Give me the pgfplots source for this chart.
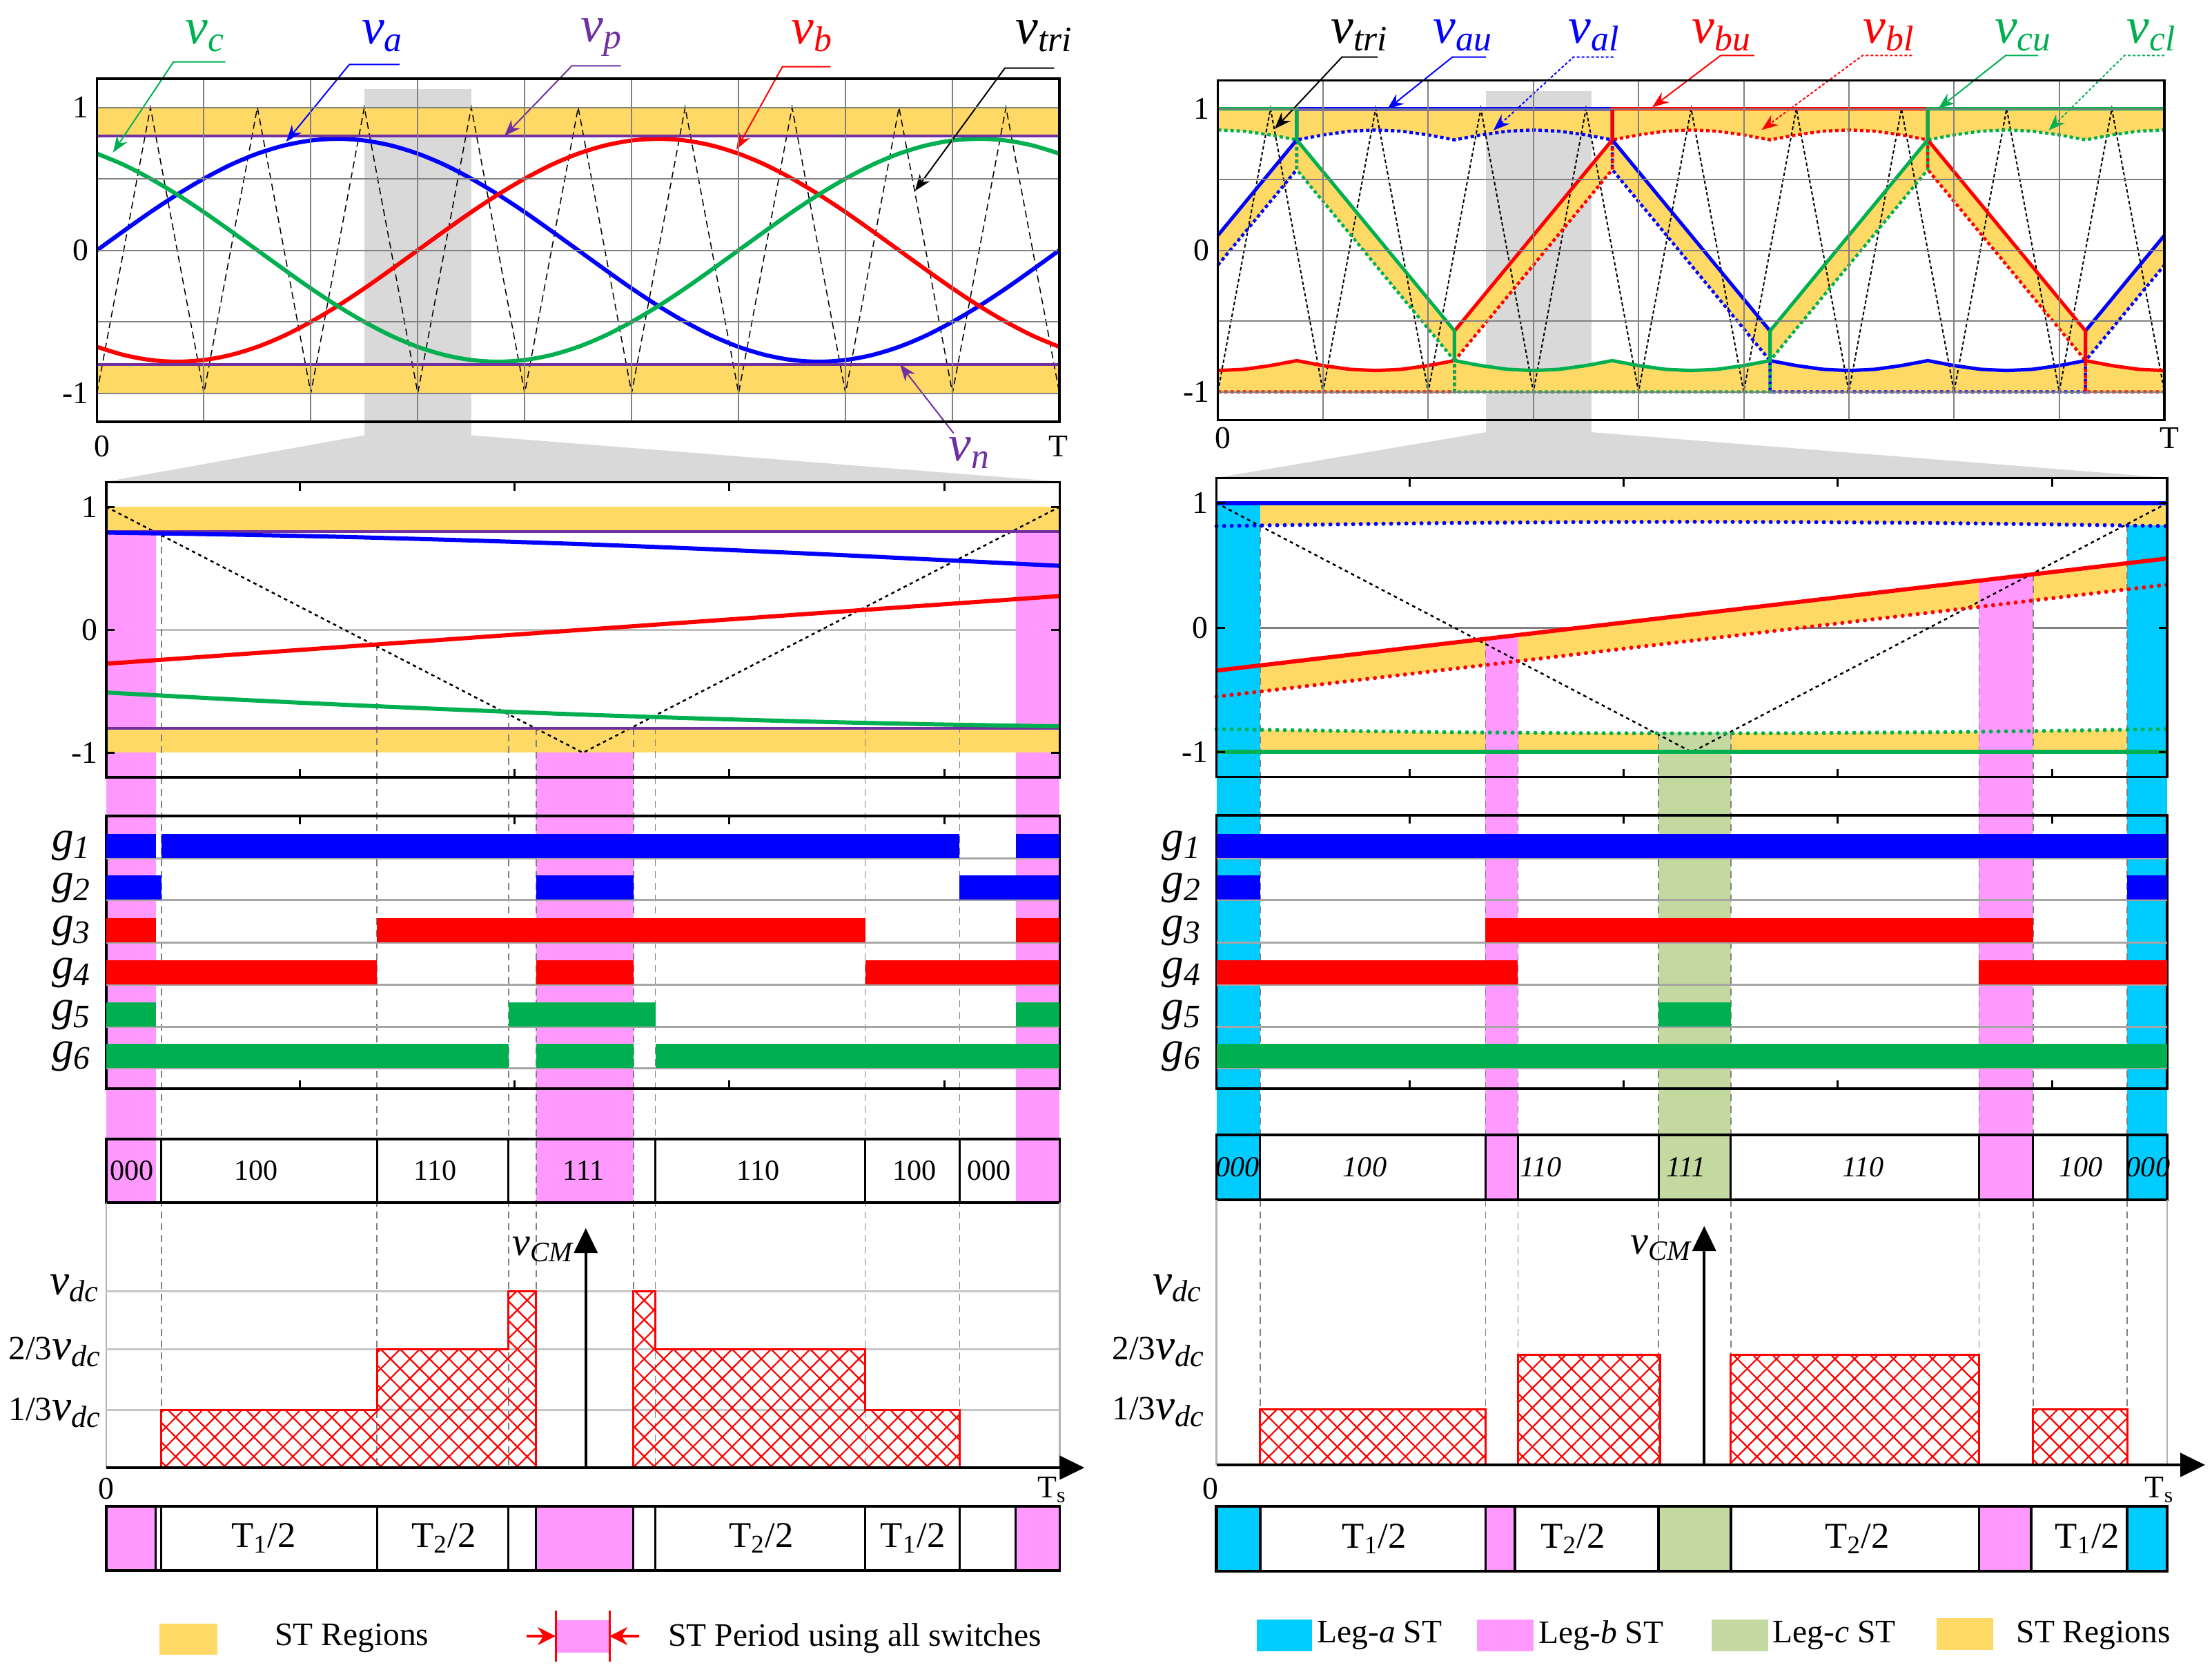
\documentclass[border=0pt]{standalone}
\usepackage{pgfplots}
\pgfplotsset{compat=1.18}
\usepackage{pgfplotstable}
\usepackage{fontspec}
\setmainfont{Liberation Serif}
\usetikzlibrary{arrows.meta,patterns.meta}

\definecolor{stY}{HTML}{FFD966}
\definecolor{stP}{HTML}{FF99FF}
\definecolor{stC}{HTML}{00CCFF}
\definecolor{stG}{HTML}{C3D9A0}
\definecolor{colG}{HTML}{D9D9D9}
\definecolor{pu}{HTML}{7030A0}
\definecolor{gr}{HTML}{00B050}
\definecolor{bl}{HTML}{0000FF}
\definecolor{rd}{HTML}{FF0000}

\newcommand\fnum{\fontsize{13}{15}\selectfont}
\newcommand\flab{\fontsize{21}{24}\selectfont\itshape}
\newcommand\fg{\fontsize{18}{20}\selectfont\itshape}
\newcommand\fst{\fontsize{12}{14}\selectfont}
\newcommand\fT{\fontsize{15}{17}\selectfont}
\newcommand\fv{\fontsize{18}{20}\selectfont\itshape}
\newcommand\ffr{\fontsize{14}{16}\selectfont}
\newcommand\flg{\fontsize{13.5}{16}\selectfont}
\newcommand\gl[1]{g\raisebox{-0.35ex}{\fontsize{13.5}{14}\selectfont #1}}

% rectangle helper (x0,x1,y0,y1)
\newcommand\rect[5]{\addplot[fill=#1,draw=none] coordinates {(#2,#4) (#3,#4) (#3,#5) (#2,#5)} -- cycle;}
% hatched block helper
\newcommand\hatch[1]{%
  \addplot[draw=rd, line width=0.3mm, pattern={Lines[angle=45,distance=2mm,line width=0.22mm]}, pattern color=rd] coordinates {#1} -- cycle;
  \addplot[draw=none, pattern={Lines[angle=-45,distance=2mm,line width=0.22mm]}, pattern color=rd] coordinates {#1} -- cycle;}

\pgfplotstableread{
x a b c
0 0 -0.676 0.676
0.25 0.135 -0.733 0.598
0.5 0.267 -0.768 0.501
0.75 0.390 -0.780 0.390
1 0.501 -0.768 0.267
1.25 0.598 -0.733 0.135
1.5 0.676 -0.676 0
1.75 0.733 -0.598 -0.135
2 0.768 -0.501 -0.267
2.25 0.780 -0.390 -0.390
2.5 0.768 -0.267 -0.501
2.75 0.733 -0.135 -0.598
3 0.676 0 -0.676
3.25 0.598 0.135 -0.733
3.5 0.501 0.267 -0.768
3.75 0.390 0.390 -0.780
4 0.267 0.501 -0.768
4.25 0.135 0.598 -0.733
4.5 0 0.676 -0.676
4.75 -0.135 0.733 -0.598
5 -0.267 0.768 -0.501
5.25 -0.390 0.780 -0.390
5.5 -0.501 0.768 -0.267
5.75 -0.598 0.733 -0.135
6 -0.676 0.676 0
6.25 -0.733 0.598 0.135
6.5 -0.768 0.501 0.267
6.75 -0.780 0.390 0.390
7 -0.768 0.267 0.501
7.25 -0.733 0.135 0.598
7.5 -0.676 0 0.676
7.75 -0.598 -0.135 0.733
8 -0.501 -0.267 0.768
8.25 -0.390 -0.390 0.780
8.5 -0.267 -0.501 0.768
8.75 -0.135 -0.598 0.733
9 0 -0.676 0.676
}\sines

\tikzset{
  tri/.style={black, line width=0.15mm, dash pattern=on 1mm off 0.6mm},
  trz/.style={black, line width=0.25mm, dash pattern=on 0.5mm off 0.5mm},
  dsh/.style={gray, line width=0.15mm, dash pattern=on 1mm off 0.7mm},
  dot/.style={line width=0.45mm, dash pattern=on 0.5mm off 0.4mm},
  ldr/.style={line width=0.2mm, -{Stealth[length=2.4mm,width=1.8mm]}},
  lb/.style={inner sep=0pt},
}
\pgfplotsset{
  panel/.style={scale only axis, anchor=north west, clip=false,
    axis line style={line width=0.35mm}, tick style={line width=0.3mm, black},
    yticklabel style={font=\fnum}},
  zpanel/.style={panel, xmin=0, xmax=1,
    xtick={0.2034,0.4284,0.6533,0.879}, xticklabels={},
    tick align=inside, major tick length=1.2mm, xtick pos=both, ytick pos=both},
}

\begin{document}
\begin{tikzpicture}

%================ LEFT lower (columns, states, CM, bottom bar) ================
\begin{axis}[scale only axis, anchor=north west, at={(15.38mm,-112.6mm)},
  width=138.16mm, height=116.4mm, xmin=0, xmax=1, ymin=-2290, ymax=-1126,
  hide axis, clip=false]
\rect{stP}{0}{0.052}{-1742}{-1126}
\rect{stP}{0.451}{0.553}{-1742}{-1126}
\rect{stP}{0.954}{1}{-1742}{-1126}
\pgfplotsinvokeforeach{0.058,0.284,0.422,0.451,0.553,0.576,0.796,0.895}{
  \addplot[dsh] coordinates {(#1,-1126) (#1,-2126)};}
% state bar
\draw[line width=0.35mm] (axis cs:0,-1650) rectangle (axis cs:1,-1742);
\pgfplotsinvokeforeach{0.058,0.284,0.422,0.576,0.796,0.895}{
  \draw[line width=0.3mm] (axis cs:#1,-1650) -- (axis cs:#1,-1742);}
\node[font=\fst] at (axis cs:0.027,-1696) {000};
\node[font=\fst] at (axis cs:0.157,-1696) {100};
\node[font=\fst] at (axis cs:0.345,-1696) {110};
\node[font=\fst] at (axis cs:0.501,-1696) {111};
\node[font=\fst] at (axis cs:0.684,-1696) {110};
\node[font=\fst] at (axis cs:0.848,-1696) {100};
\node[font=\fst] at (axis cs:0.926,-1696) {000};
% CM panel
\draw[gray!60, line width=0.25mm] (axis cs:0,-1742) -- (axis cs:0,-2126);
\draw[gray!60, line width=0.25mm] (axis cs:1,-1742) -- (axis cs:1,-2126);
\pgfplotsinvokeforeach{-1870,-1954,-2042}{
  \draw[gray!45, line width=0.3mm] (axis cs:0,#1) -- (axis cs:1,#1);}
\hatch{(0.058,-2126) (0.058,-2042) (0.284,-2042) (0.284,-1954) (0.422,-1954) (0.422,-1870) (0.451,-1870) (0.451,-2126)}
\hatch{(0.553,-2126) (0.553,-1870) (0.576,-1870) (0.576,-1954) (0.796,-1954) (0.796,-2042) (0.895,-2042) (0.895,-2126)}
\draw[line width=0.45mm, -{Triangle[length=3.6mm,width=3.4mm]}] (axis cs:0,-2126) -- (axis cs:1.026,-2126);
\draw[line width=0.35mm, -{Triangle[length=3.6mm,width=3.4mm]}] (axis cs:0.503,-2126) -- (axis cs:0.503,-1779);
\node[anchor=east, font=\fontsize{16.5}{18}\selectfont\itshape] at (axis cs:0.499,-1810) {v\textsubscript{CM}};
\node[anchor=east, font=\fv] at (axis cs:0.002,-1866) {v\textsubscript{dc}};
\node[anchor=east] at (axis cs:0.004,-1958) {{\ffr 2/3}{\fv v\textsubscript{dc}}};
\node[anchor=east] at (axis cs:0.004,-2046) {{\ffr 1/3}{\fv v\textsubscript{dc}}};
\node[font=\fnum] at (axis cs:0,-2156) {0};
\node[font=\fnum] at (axis cs:0.992,-2158) {T\textsubscript{s}};
% bottom bar
\rect{stP}{0}{0.052}{-2275}{-2182}
\rect{stP}{0.451}{0.553}{-2275}{-2182}
\rect{stP}{0.954}{1}{-2275}{-2182}
\draw[line width=0.35mm] (axis cs:0,-2182) rectangle (axis cs:1,-2275);
\pgfplotsinvokeforeach{0.052,0.058,0.284,0.422,0.451,0.553,0.576,0.796,0.895,0.954}{
  \draw[line width=0.3mm] (axis cs:#1,-2182) -- (axis cs:#1,-2275);}
\node[font=\fT] at (axis cs:0.165,-2228) {T\textsubscript{1}/2};
\node[font=\fT] at (axis cs:0.354,-2228) {T\textsubscript{2}/2};
\node[font=\fT] at (axis cs:0.687,-2228) {T\textsubscript{2}/2};
\node[font=\fT] at (axis cs:0.846,-2228) {T\textsubscript{1}/2};
\end{axis}

%================ RIGHT lower ================
\begin{axis}[scale only axis, anchor=north west, at={(176.26mm,-112.6mm)},
  width=137.74mm, height=116.4mm, xmin=0, xmax=1, ymin=-2290, ymax=-1126,
  hide axis, clip=false]
\rect{stC}{0}{0.046}{-1738}{-1126}
\rect{stP}{0.283}{0.317}{-1738}{-1126}
\rect{stG}{0.465}{0.541}{-1738}{-1126}
\rect{stP}{0.802}{0.859}{-1738}{-1126}
\rect{stC}{0.958}{1}{-1738}{-1126}
\pgfplotsinvokeforeach{0.046,0.283,0.317,0.465,0.541,0.802,0.859,0.958}{
  \addplot[dsh] coordinates {(#1,-1126) (#1,-2122)};}
\draw[line width=0.35mm] (axis cs:0,-1644) rectangle (axis cs:1,-1738);
\pgfplotsinvokeforeach{0.046,0.283,0.317,0.465,0.541,0.802,0.859,0.958}{
  \draw[line width=0.3mm] (axis cs:#1,-1644) -- (axis cs:#1,-1738);}
\node[font=\fst\itshape] at (axis cs:0.022,-1691) {000};
\node[font=\fst\itshape] at (axis cs:0.156,-1691) {100};
\node[font=\fst\itshape] at (axis cs:0.341,-1691) {110};
\node[font=\fst\itshape] at (axis cs:0.494,-1691) {111};
\node[font=\fst\itshape] at (axis cs:0.680,-1691) {110};
\node[font=\fst\itshape] at (axis cs:0.909,-1691) {100};
\node[font=\fst\itshape] at (axis cs:0.980,-1691) {000};
\draw[gray!60, line width=0.25mm] (axis cs:0,-1738) -- (axis cs:0,-2122);
\draw[gray!60, line width=0.25mm] (axis cs:1,-1738) -- (axis cs:1,-2122);
\hatch{(0.046,-2122) (0.046,-2041) (0.283,-2041) (0.283,-2122)}
\hatch{(0.317,-2122) (0.317,-1962) (0.467,-1962) (0.467,-2122)}
\hatch{(0.541,-2122) (0.541,-1962) (0.802,-1962) (0.802,-2122)}
\hatch{(0.859,-2122) (0.859,-2041) (0.958,-2041) (0.958,-2122)}
\draw[line width=0.45mm, -{Triangle[length=3.6mm,width=3.4mm]}] (axis cs:0,-2122) -- (axis cs:1.04,-2122);
\draw[line width=0.35mm, -{Triangle[length=3.6mm,width=3.4mm]}] (axis cs:0.513,-2122) -- (axis cs:0.513,-1776);
\node[anchor=east, font=\fontsize{16.5}{18}\selectfont\itshape] at (axis cs:0.509,-1808) {v\textsubscript{CM}};
\node[anchor=east, font=\fv] at (axis cs:-0.006,-1866) {v\textsubscript{dc}};
\node[anchor=east] at (axis cs:-0.003,-1958) {{\ffr 2/3}{\fv v\textsubscript{dc}}};
\node[anchor=east] at (axis cs:-0.003,-2045) {{\ffr 1/3}{\fv v\textsubscript{dc}}};
\node[font=\fnum] at (axis cs:-0.006,-2156) {0};
\node[font=\fnum] at (axis cs:0.992,-2158) {T\textsubscript{s}};
\rect{stC}{0}{0.046}{-2276}{-2182}
\rect{stP}{0.283}{0.314}{-2276}{-2182}
\rect{stG}{0.465}{0.541}{-2276}{-2182}
\rect{stP}{0.802}{0.857}{-2276}{-2182}
\rect{stC}{0.958}{1}{-2276}{-2182}
\draw[line width=0.45mm] (axis cs:0,-2182) rectangle (axis cs:1,-2276);
\pgfplotsinvokeforeach{0.046,0.283,0.314,0.465,0.541,0.802,0.857,0.958}{
  \draw[line width=0.35mm] (axis cs:#1,-2182) -- (axis cs:#1,-2276);}
\node[font=\fT] at (axis cs:0.166,-2229) {T\textsubscript{1}/2};
\node[font=\fT] at (axis cs:0.375,-2229) {T\textsubscript{2}/2};
\node[font=\fT] at (axis cs:0.674,-2229) {T\textsubscript{2}/2};
\node[font=\fT] at (axis cs:0.916,-2229) {T\textsubscript{1}/2};
\end{axis}

% zoom funnels
\fill[colG] (52.78mm,-63.06mm) -- (68.27mm,-63.06mm) -- (153.5mm,-69.76mm) -- (15.4mm,-69.76mm) -- cycle;
\fill[colG] (215.3mm,-62.6mm) -- (230.5mm,-62.6mm) -- (314mm,-69.2mm) -- (176.3mm,-69.2mm) -- cycle;

%================ TOP LEFT ================
\begin{axis}[panel, at={(14.05mm,-11.41mm)}, width=139.45mm, height=49.68mm,
  xmin=0, xmax=9, ymin=-1.2, ymax=1.2,
  xtick={0,1,...,9}, xticklabels={}, ytick={-1,-0.5,0,0.5,1}, yticklabels={-1,,0,,1},
  grid=major, grid style={black!50, line width=0.2mm}, major tick length=0pt, axis on top]
\rect{colG}{2.5}{3.5}{-1.295}{1.13}
\rect{stY}{0}{9}{0.8}{1}
\rect{stY}{0}{9}{-1}{-0.8}
\addplot[tri] coordinates {(0,-1)(0.5,1)(1,-1)(1.5,1)(2,-1)(2.5,1)(3,-1)(3.5,1)(4,-1)(4.5,1)(5,-1)(5.5,1)(6,-1)(6.5,1)(7,-1)(7.5,1)(8,-1)(8.5,1)(9,-1)};
\addplot[bl, line width=0.6mm, smooth] table[x=x,y=a] {\sines};
\addplot[rd, line width=0.6mm, smooth] table[x=x,y=b] {\sines};
\addplot[gr, line width=0.6mm, smooth] table[x=x,y=c] {\sines};
\addplot[pu, line width=0.45mm] coordinates {(0,0.8)(9,0.8)};
\addplot[pu, line width=0.45mm] coordinates {(0,-0.8)(9,-0.8)};
\node[lb, text=gr] at (axis cs:1.01,1.50) {\flab v\textsubscript{c}};
\node[lb, text=bl] at (axis cs:2.67,1.50) {\flab v\textsubscript{a}};
\node[lb, text=pu] at (axis cs:4.72,1.49) {\flab v\textsubscript{p}};
\node[lb, text=rd] at (axis cs:6.69,1.50) {\flab v\textsubscript{b}};
\node[lb, text=black] at (axis cs:8.86,1.50) {\flab v\textsubscript{tri}};
\node[lb, text=pu] at (axis cs:8.16,-1.42) {\flab v\textsubscript{n}};
\draw[gr, ldr] (axis cs:1.20,1.318) -- (axis cs:0.715,1.318) -- (axis cs:0.15,0.684);
\draw[bl, ldr] (axis cs:2.83,1.30) -- (axis cs:2.36,1.30) -- (axis cs:1.77,0.76);
\draw[pu, ldr] (axis cs:4.90,1.29) -- (axis cs:4.44,1.29) -- (axis cs:3.81,0.80);
\draw[rd, ldr] (axis cs:6.86,1.285) -- (axis cs:6.41,1.285) -- (axis cs:5.98,0.705);
\draw[black, ldr] (axis cs:8.95,1.275) -- (axis cs:8.49,1.275) -- (axis cs:7.65,0.415);
\draw[pu, ldr] (axis cs:8.01,-1.28) -- (axis cs:7.51,-0.80);
\node[font=\fnum] at (axis cs:0.05,-1.37) {0};
\node[font=\fnum] at (axis cs:8.99,-1.37) {T};
\end{axis}

%================ TOP RIGHT ================
\begin{axis}[panel, at={(176.46mm,-11.65mm)}, width=137.14mm, height=49.2mm,
  xmin=0, xmax=9, ymin=-1.2, ymax=1.2,
  xtick={0,1,...,9}, xticklabels={}, ytick={-1,-0.5,0,0.5,1}, yticklabels={-1,,0,,1},
  grid=major, grid style={black!50, line width=0.2mm}, major tick length=0pt, axis on top]
\rect{colG}{2.55}{3.55}{-1.285}{1.124}
% ST regions
\addplot[fill=stY, draw=none] coordinates {(0,1)(9,1)(9,0.85)(8.75,.841)(8.5,.815)(8.25,.78)(8,.815)(7.75,.841)(7.5,.85)(7.25,.841)(7,.815)(6.75,.78)(6.5,.815)(6.25,.841)(6,.85)(5.75,.841)(5.5,.815)(5.25,.78)(5,.815)(4.75,.841)(4.5,.85)(4.25,.841)(4,.815)(3.75,.78)(3.5,.815)(3.25,.841)(3,.85)(2.75,.841)(2.5,.815)(2.25,.78)(2,.815)(1.75,.841)(1.5,.85)(1.25,.841)(1,.815)(0.75,.78)(0.5,.815)(0.25,.841)(0,.85)} -- cycle;
\addplot[fill=stY, draw=none] coordinates {(0,-1)(9,-1)(9,-0.85)(8.75,-.841)(8.5,-.815)(8.25,-.78)(8,-.815)(7.75,-.841)(7.5,-.85)(7.25,-.841)(7,-.815)(6.75,-.78)(6.5,-.815)(6.25,-.841)(6,-.85)(5.75,-.841)(5.5,-.815)(5.25,-.78)(5,-.815)(4.75,-.841)(4.5,-.85)(4.25,-.841)(4,-.815)(3.75,-.78)(3.5,-.815)(3.25,-.841)(3,-.85)(2.75,-.841)(2.5,-.815)(2.25,-.78)(2,-.815)(1.75,-.841)(1.5,-.85)(1.25,-.841)(1,-.815)(0.75,-.78)(0.5,-.815)(0.25,-.841)(0,-.85)} -- cycle;
\addplot[fill=stY, draw=none] coordinates {(0,0.105)(0.75,0.78)(0.75,0.57)(0,-0.105)} -- cycle;
\addplot[fill=stY, draw=none] coordinates {(0.75,0.78)(2.25,-0.57)(2.25,-0.78)(0.75,0.57)} -- cycle;
\addplot[fill=stY, draw=none] coordinates {(2.25,-0.57)(3.75,0.78)(3.75,0.57)(2.25,-0.78)} -- cycle;
\addplot[fill=stY, draw=none] coordinates {(3.75,0.78)(5.25,-0.57)(5.25,-0.78)(3.75,0.57)} -- cycle;
\addplot[fill=stY, draw=none] coordinates {(5.25,-0.57)(6.75,0.78)(6.75,0.57)(5.25,-0.78)} -- cycle;
\addplot[fill=stY, draw=none] coordinates {(6.75,0.78)(8.25,-0.57)(8.25,-0.78)(6.75,0.57)} -- cycle;
\addplot[fill=stY, draw=none] coordinates {(8.25,-0.57)(9,0.105)(9,-0.105)(8.25,-0.78)} -- cycle;
\addplot[black, line width=0.2mm, dash pattern=on 0.5mm off 0.35mm] coordinates {(0,-1)(0.5,1)(1,-1)(1.5,1)(2,-1)(2.5,1)(3,-1)(3.5,1)(4,-1)(4.5,1)(5,-1)(5.5,1)(6,-1)(6.5,1)(7,-1)(7.5,1)(8,-1)(8.5,1)(9,-1)};
% lower (dotted) modulating signals
\addplot[bl, dot] coordinates {(0,-0.105)(0.75,0.57)(0.75,0.78)(1,0.815)(1.25,0.841)(1.5,0.85)(1.75,0.841)(2,0.815)(2.25,0.78)(2.5,0.815)(2.75,0.841)(3,0.85)(3.25,0.841)(3.5,0.815)(3.75,0.78)(3.75,0.57)(5.25,-0.78)(5.25,-1)(8.25,-1)(8.25,-0.78)(9,-0.105)};
\addplot[rd, dot] coordinates {(0,-1)(2.25,-1)(2.25,-0.78)(3.75,0.57)(3.75,0.78)(4,0.815)(4.25,0.841)(4.5,0.85)(4.75,0.841)(5,0.815)(5.25,0.78)(5.5,0.815)(5.75,0.841)(6,0.85)(6.25,0.841)(6.5,0.815)(6.75,0.78)(6.75,0.57)(8.25,-0.78)(8.25,-1)(9,-1)};
\addplot[gr, dot] coordinates {(0,0.85)(0.25,0.841)(0.5,0.815)(0.75,0.78)(0.75,0.57)(2.25,-0.78)(2.25,-1)(5.25,-1)(5.25,-0.78)(6.75,0.57)(6.75,0.78)(7,0.815)(7.25,0.841)(7.5,0.85)(7.75,0.841)(8,0.815)(8.25,0.78)(8.5,0.815)(8.75,0.841)(9,0.85)};
% upper (solid) modulating signals
\addplot[bl, line width=0.5mm] coordinates {(0,0.105)(0.75,0.78)(0.75,1)(3.75,1)(3.75,0.78)(5.25,-0.57)(5.25,-0.78)(5.5,-0.815)(5.75,-0.841)(6,-0.85)(6.25,-0.841)(6.5,-0.815)(6.75,-0.78)(7,-0.815)(7.25,-0.841)(7.5,-0.85)(7.75,-0.841)(8,-0.815)(8.25,-0.78)(8.25,-0.57)(9,0.105)};
\addplot[rd, line width=0.5mm] coordinates {(0,-0.85)(0.25,-0.841)(0.5,-0.815)(0.75,-0.78)(1,-0.815)(1.25,-0.841)(1.5,-0.85)(1.75,-0.841)(2,-0.815)(2.25,-0.78)(2.25,-0.57)(3.75,0.78)(3.75,1)(6.75,1)(6.75,0.78)(8.25,-0.57)(8.25,-0.78)(8.5,-0.815)(8.75,-0.841)(9,-0.85)};
\addplot[gr, line width=0.5mm] coordinates {(0,1)(0.75,1)(0.75,0.78)(2.25,-0.57)(2.25,-0.78)(2.5,-0.815)(2.75,-0.841)(3,-0.85)(3.25,-0.841)(3.5,-0.815)(3.75,-0.78)(4,-0.815)(4.25,-0.841)(4.5,-0.85)(4.75,-0.841)(5,-0.815)(5.25,-0.78)(5.25,-0.57)(6.75,0.78)(6.75,1)(9,1)};
\node[lb, text=black] at (axis cs:1.35,1.52) {\flab v\textsubscript{tri}};
\node[lb, text=bl] at (axis cs:2.33,1.52) {\flab v\textsubscript{au}};
\node[lb, text=bl] at (axis cs:3.58,1.52) {\flab v\textsubscript{al}};
\node[lb, text=rd] at (axis cs:4.79,1.52) {\flab v\textsubscript{bu}};
\node[lb, text=rd] at (axis cs:6.38,1.52) {\flab v\textsubscript{bl}};
\node[lb, text=gr] at (axis cs:7.66,1.52) {\flab v\textsubscript{cu}};
\node[lb, text=gr] at (axis cs:8.88,1.52) {\flab v\textsubscript{cl}};
\draw[black, ldr] (axis cs:1.52,1.365) -- (axis cs:1.18,1.365) -- (axis cs:0.54,0.858);
\draw[bl, ldr] (axis cs:2.55,1.365) -- (axis cs:2.23,1.365) -- (axis cs:1.61,0.996);
\draw[bl, ldr, dash pattern=on 0.4mm off 0.3mm] (axis cs:3.76,1.365) -- (axis cs:3.38,1.365) -- (axis cs:2.62,0.847);
\draw[rd, ldr] (axis cs:5.10,1.376) -- (axis cs:4.78,1.376) -- (axis cs:4.13,1.01);
\draw[rd, ldr, dash pattern=on 0.4mm off 0.3mm] (axis cs:6.60,1.376) -- (axis cs:6.13,1.376) -- (axis cs:5.17,0.85);
\draw[gr, ldr] (axis cs:7.80,1.376) -- (axis cs:7.49,1.376) -- (axis cs:6.85,1.0);
\draw[gr, ldr, dash pattern=on 0.4mm off 0.3mm] (axis cs:9.0,1.376) -- (axis cs:8.62,1.376) -- (axis cs:7.9,0.847);
\node[font=\fnum] at (axis cs:0.05,-1.325) {0};
\node[font=\fnum] at (axis cs:9.05,-1.325) {T};
\end{axis}

%================ ZOOM LEFT ================
\begin{axis}[zpanel, at={(15.38mm,-69.85mm)}, width=138.16mm, height=42.75mm,
  ymin=-1.2, ymax=1.2, ytick={-1,0,1}, yticklabels={-1,0,1}, axis on top]
\addplot[gray!50, line width=0.3mm] coordinates {(0,0)(1,0)};
\rect{stP}{0}{0.052}{-1.2}{0.8}
\rect{stP}{0.451}{0.553}{-1.2}{-1}
\rect{stP}{0.954}{1}{-1.2}{0.8}
\rect{stY}{0}{1}{0.8}{1}
\rect{stY}{0}{1}{-1}{-0.8}
\addplot[dsh] coordinates {(0.058,0.77)(0.058,-1.2)};
\addplot[dsh] coordinates {(0.284,-0.115)(0.284,-1.2)};
\addplot[dsh] coordinates {(0.422,-0.66)(0.422,-1.2)};
\addplot[dsh] coordinates {(0.451,-0.8)(0.451,-1.2)};
\addplot[dsh] coordinates {(0.553,-0.8)(0.553,-1.2)};
\addplot[dsh] coordinates {(0.576,-0.70)(0.576,-1.2)};
\addplot[dsh] coordinates {(0.796,0.158)(0.796,-1.2)};
\addplot[dsh] coordinates {(0.895,0.55)(0.895,-1.2)};
\addplot[trz] coordinates {(0,1)(0.5,-1)(1,1)};
\addplot[pu, line width=0.4mm] coordinates {(0,0.8)(1,0.8)};
\addplot[pu, line width=0.4mm] coordinates {(0,-0.8)(1,-0.8)};
\addplot[bl, line width=0.6mm, smooth] coordinates {(0,0.79)(0.125,0.775)(0.25,0.755)(0.375,0.728)(0.5,0.696)(0.625,0.658)(0.75,0.615)(0.875,0.568)(1,0.52)};
\addplot[rd, line width=0.6mm] coordinates {(0,-0.276)(0.5,0)(1,0.274)};
\addplot[gr, line width=0.6mm, smooth] coordinates {(0,-0.51)(0.125,-0.563)(0.25,-0.61)(0.375,-0.652)(0.5,-0.69)(0.625,-0.722)(0.75,-0.749)(0.875,-0.77)(1,-0.785)};
\end{axis}

%================ ZOOM RIGHT ================
\begin{axis}[zpanel, at={(176.26mm,-69.27mm)}, width=137.74mm, height=43.28mm,
  ymin=-1.2, ymax=1.2, ytick={-1,0,1}, yticklabels={-1,0,1}, axis on top]
\addplot[black!50, line width=0.3mm] coordinates {(0,0)(1,0)};
\addplot[fill=stY, draw=none] coordinates {(0,1)(1,1)(1,0.815)(0.875,0.8295)(0.75,0.8406)(0.625,0.8476)(0.5,0.85)(0.375,0.8476)(0.25,0.8406)(0.125,0.8295)(0,0.815)} -- cycle;
\addplot[fill=stY, draw=none] coordinates {(0,-0.345)(1,0.555)(1,0.345)(0,-0.555)} -- cycle;
\addplot[fill=stY, draw=none] coordinates {(0,-1)(1,-1)(1,-0.815)(0.875,-0.8295)(0.75,-0.8406)(0.625,-0.8476)(0.5,-0.85)(0.375,-0.8476)(0.25,-0.8406)(0.125,-0.8295)(0,-0.815)} -- cycle;
\rect{stC}{0}{0.046}{-1.2}{0.99}
\rect{stC}{0.958}{1}{-1.2}{0.82}
\addplot[fill=stP, draw=none] coordinates {(0.283,-0.0903)(0.317,-0.0597)(0.317,-1.2)(0.283,-1.2)} -- cycle;
\addplot[fill=stP, draw=none] coordinates {(0.802,0.3768)(0.859,0.4281)(0.859,-1.2)(0.802,-1.2)} -- cycle;
\rect{stG}{0.465}{0.541}{-1.2}{-0.84}
\addplot[dsh] coordinates {(0.046,0.82)(0.046,-1.2)};
\addplot[dsh] coordinates {(0.283,-0.09)(0.283,-1.2)};
\addplot[dsh] coordinates {(0.317,-0.27)(0.317,-1.2)};
\addplot[dsh] coordinates {(0.465,-0.84)(0.465,-1.2)};
\addplot[dsh] coordinates {(0.541,-0.84)(0.541,-1.2)};
\addplot[dsh] coordinates {(0.802,0.17)(0.802,-1.2)};
\addplot[dsh] coordinates {(0.859,0.43)(0.859,-1.2)};
\addplot[dsh] coordinates {(0.958,0.82)(0.958,-1.2)};
\addplot[trz] coordinates {(0,1)(0.5,-1)(1,1)};
\addplot[bl, line width=0.6mm] coordinates {(0,1)(1,1)};
\addplot[bl, line width=0.6mm, line cap=round, dash pattern=on 0pt off 1.1mm] coordinates {(0,0.815)(0.125,0.8295)(0.25,0.8406)(0.375,0.8476)(0.5,0.85)(0.625,0.8476)(0.75,0.8406)(0.875,0.8295)(1,0.815)};
\addplot[rd, line width=0.6mm] coordinates {(0,-0.345)(1,0.555)};
\addplot[rd, line width=0.6mm, line cap=round, dash pattern=on 0pt off 1.1mm] coordinates {(0,-0.555)(1,0.345)};
\addplot[gr, line width=0.6mm, line cap=round, dash pattern=on 0pt off 1.1mm] coordinates {(0,-0.815)(0.125,-0.8295)(0.25,-0.8406)(0.375,-0.8476)(0.5,-0.85)(0.625,-0.8476)(0.75,-0.8406)(0.875,-0.8295)(1,-0.815)};
\addplot[gr, line width=0.6mm] coordinates {(0,-1)(1,-1)};
\end{axis}

%================ GATES LEFT ================
\begin{axis}[zpanel, at={(15.38mm,-118.2mm)}, width=138.16mm, height=39.5mm,
  ymin=0, ymax=395, ytick=\empty]
\pgfplotsinvokeforeach{30,90,151,212,274,334}{
  \addplot[gray!70, line width=0.3mm] coordinates {(0,#1)(1,#1)};}
\rect{bl}{0}{0.052}{334}{369}
\rect{bl}{0.058}{0.895}{334}{369}
\rect{bl}{0.954}{1}{334}{369}
\rect{bl}{0}{0.058}{274}{309}
\rect{bl}{0.451}{0.553}{274}{309}
\rect{bl}{0.895}{1}{274}{309}
\rect{rd}{0}{0.052}{212}{247}
\rect{rd}{0.284}{0.796}{212}{247}
\rect{rd}{0.954}{1}{212}{247}
\rect{rd}{0}{0.284}{151}{186}
\rect{rd}{0.451}{0.553}{151}{186}
\rect{rd}{0.796}{1}{151}{186}
\rect{gr}{0}{0.052}{90}{125}
\rect{gr}{0.422}{0.576}{90}{125}
\rect{gr}{0.954}{1}{90}{125}
\rect{gr}{0}{0.422}{30}{65}
\rect{gr}{0.451}{0.553}{30}{65}
\rect{gr}{0.576}{1}{30}{65}
\node[lb, font=\fg] at (axis cs:-0.037,352) {\gl{1}};
\node[lb, font=\fg] at (axis cs:-0.037,291) {\gl{2}};
\node[lb, font=\fg] at (axis cs:-0.037,229) {\gl{3}};
\node[lb, font=\fg] at (axis cs:-0.037,168) {\gl{4}};
\node[lb, font=\fg] at (axis cs:-0.037,107) {\gl{5}};
\node[lb, font=\fg] at (axis cs:-0.037,47) {\gl{6}};
\end{axis}

%================ GATES RIGHT ================
\begin{axis}[zpanel, at={(176.26mm,-118.1mm)}, width=137.74mm, height=39.6mm,
  ymin=0, ymax=396, ytick=\empty]
\pgfplotsinvokeforeach{30,90,151,212,274,334}{
  \addplot[gray!70, line width=0.3mm] coordinates {(0,#1)(1,#1)};}
\rect{bl}{0}{1}{334}{369}
\rect{bl}{0}{0.046}{274}{309}
\rect{bl}{0.958}{1}{274}{309}
\rect{rd}{0.283}{0.859}{212}{247}
\rect{rd}{0}{0.317}{151}{186}
\rect{rd}{0.802}{1}{151}{186}
\rect{gr}{0.465}{0.541}{90}{125}
\rect{gr}{0}{1}{30}{65}
\node[lb, font=\fg] at (axis cs:-0.037,352) {\gl{1}};
\node[lb, font=\fg] at (axis cs:-0.037,291) {\gl{2}};
\node[lb, font=\fg] at (axis cs:-0.037,229) {\gl{3}};
\node[lb, font=\fg] at (axis cs:-0.037,168) {\gl{4}};
\node[lb, font=\fg] at (axis cs:-0.037,107) {\gl{5}};
\node[lb, font=\fg] at (axis cs:-0.037,47) {\gl{6}};
\end{axis}

%================ LEGENDS ================
\fill[stY] (23.1mm,-235.2mm) rectangle (31.5mm,-239.7mm);
\node[anchor=west, font=\flg] at (38.6mm,-237.3mm) {ST Regions};
\fill[stP] (80.5mm,-234.7mm) rectangle (88.3mm,-239.4mm);
\draw[rd, line width=0.3mm] (80.5mm,-233.3mm) -- (80.5mm,-240.7mm);
\draw[rd, line width=0.3mm] (88.3mm,-233.3mm) -- (88.3mm,-240.7mm);
\draw[rd, line width=0.4mm, -{Stealth[length=2.6mm,width=2.6mm]}] (76.3mm,-237mm) -- (80.5mm,-237mm);
\draw[rd, line width=0.4mm, -{Stealth[length=2.6mm,width=2.6mm]}] (92.6mm,-237mm) -- (88.3mm,-237mm);
\node[anchor=west, font=\flg] at (95.6mm,-237.3mm) {ST Period using all switches};
\fill[stC] (182.1mm,-234.6mm) rectangle (190.1mm,-239.2mm);
\node[anchor=west, font=\flg, inner sep=0.5mm] at (190.3mm,-236.9mm) {Leg-\textit{a} ST};
\fill[stP] (214.0mm,-234.6mm) rectangle (222.2mm,-239.2mm);
\node[anchor=west, font=\flg, inner sep=0.5mm] at (222.4mm,-236.9mm) {Leg-\textit{b} ST};
\fill[stG] (248.0mm,-234.6mm) rectangle (256.2mm,-239.2mm);
\node[anchor=west, font=\flg, inner sep=0.5mm] at (256.3mm,-236.9mm) {Leg-\textit{c} ST};
\fill[stY] (280.6mm,-234.4mm) rectangle (288.8mm,-239.0mm);
\node[anchor=west, font=\flg, inner sep=0.5mm] at (291.6mm,-236.9mm) {ST Regions};

\pgfresetboundingbox
\path[use as bounding box] (0,0) rectangle (320.5mm,-242.1mm);
\end{tikzpicture}
\end{document}
